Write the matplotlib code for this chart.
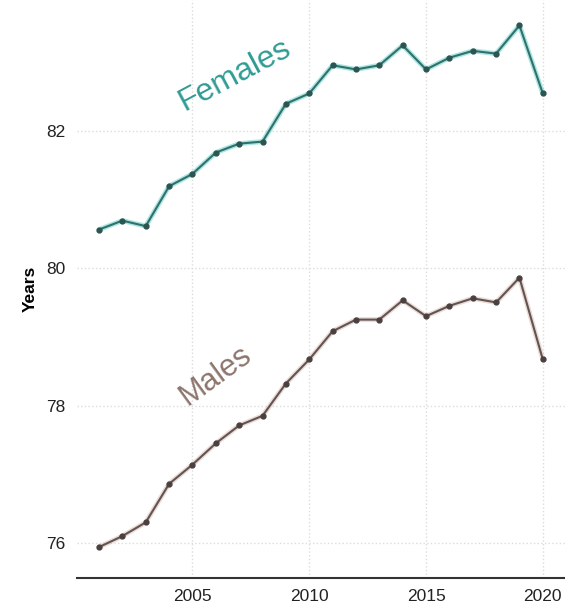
import numpy as np
import matplotlib.pyplot as plt

# Data

years = list(range(2001, 2021))

females = [80.56, 80.69, 80.61, 81.19, 81.37, 81.68, 81.81, 81.84, 82.39, 82.54,
           82.95, 82.89, 82.95, 83.24, 82.89, 83.06, 83.16, 83.12, 83.53, 82.54]

males = [75.94, 76.10, 76.30, 76.86, 77.14, 77.45, 77.71, 77.85, 78.32, 78.67,
         79.08, 79.25, 79.25, 79.53, 79.30, 79.45, 79.56, 79.50, 79.86, 78.67]

x_ticks = [2005, 2010, 2015, 2020]
y_ticks = [76, 78, 80, 82]

female_col = '#2f9c94'
male_col = '#8c756c'

plt.rcParams['font.family'] = ['Liberation Sans', 'DejaVu Sans']

fig = plt.figure(figsize=(5.65, 6.04), dpi=100)
ax = fig.add_axes([0.136, 0.043, 0.864, 0.957])

# Lines: coloured halo, darker core and dark points

styles = [(females, '#45c8bf', '#32706b', '#2c5450'),
          (males, '#d4b2a6', '#615452', '#4a4040')]

for vals, halo, core, pt in styles:
    ax.plot(years, vals, color=halo, linewidth=3.6, alpha=0.45, solid_capstyle='round')
    ax.plot(years, vals, color=core, linewidth=1.5)
    ax.plot(years, vals, 'o', color=pt, markersize=3.5)

# Labels on the lines

ax.text(2006.8, 82.8, 'Females', color=female_col, fontsize=23,
        rotation=28, ha='center', va='center')
ax.text(2006.0, 78.44, 'Males', color=male_col, fontsize=22,
        rotation=36, ha='center', va='center')

ax.set_xlim(2000.05, 2020.95)
ax.set_ylim(75.49, 83.9)
ax.set_xticks(x_ticks)
ax.set_yticks(y_ticks)
ax.tick_params(length=0, labelsize=12.5, colors='#222222', pad=8)

ax.set_ylabel('Years', fontsize=12.5, fontweight='bold', labelpad=6)

ax.grid(True, linestyle=':', color='#dcdcdc', linewidth=1)
ax.set_axisbelow(True)

for side in ['left', 'right', 'top']:
    ax.spines[side].set_visible(False)
ax.spines['bottom'].set_color('#333333')
ax.spines['bottom'].set_linewidth(1.5)

plt.savefig('out.png', dpi=100)
